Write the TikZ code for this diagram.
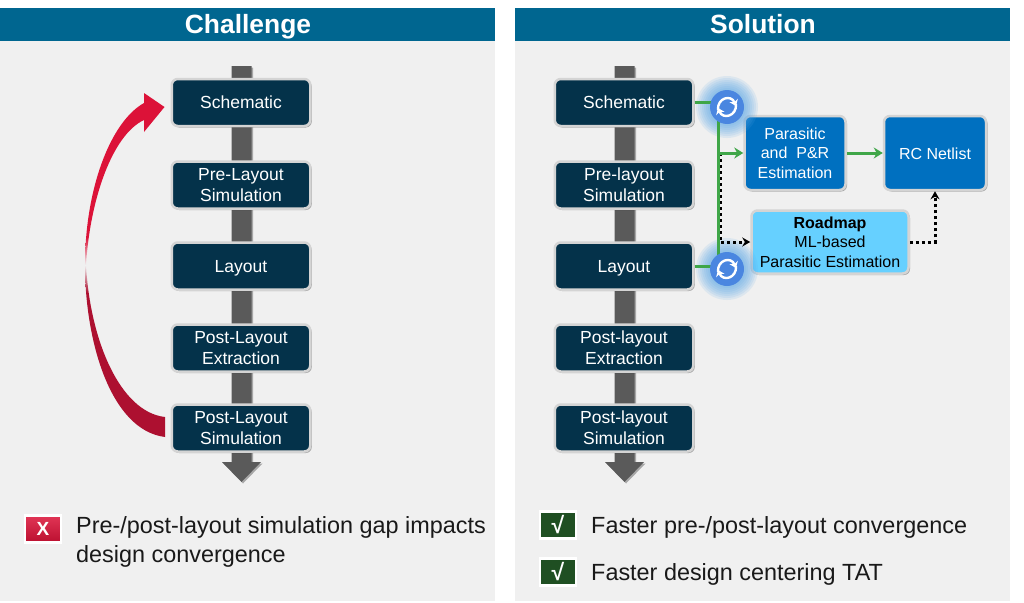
\documentclass[tikz,border=0pt]{standalone}
\usepackage{fontspec}
\setmainfont{Liberation Sans}
\usetikzlibrary{arrows.meta,shadows}
\definecolor{headblue}{HTML}{006690}
\definecolor{panelgray}{HTML}{F0F0F0}
\definecolor{boxnavy}{HTML}{04324A}
\definecolor{boxblue}{HTML}{0070C0}
\definecolor{boxsky}{HTML}{66D0FF}
\definecolor{spinegray}{HTML}{5A5A5A}
\definecolor{edgegray}{HTML}{D4D4D4}
\definecolor{syncblue}{HTML}{4A86E0}
\definecolor{glowblue}{HTML}{5AA8E8}
\definecolor{flowgreen}{HTML}{3FA648}
\definecolor{badred}{HTML}{DC1238}
\definecolor{darkred}{HTML}{AD1030}
\definecolor{goodgreen}{HTML}{1F4F22}
\pgfdeclareverticalshading{returnfade}{100bp}{color(0bp)=(darkred); color(46bp)=(darkred); color(50bp)=(panelgray); color(54bp)=(badred); color(100bp)=(badred)}
\tikzset{
  softshadow/.style={drop shadow={shadow xshift=1.5pt,shadow yshift=-1.5pt,opacity=.3,fill=black}},
  flowbox/.style={draw=edgegray,line width=2.5pt,rounded corners=6pt,inner sep=0pt,align=center,softshadow},
  stagebox/.style={flowbox,fill=boxnavy,text=white,minimum width=138.5pt,minimum height=47pt,font=\fontsize{17.5}{21}\selectfont},
  estbox/.style={flowbox,fill=boxblue,text=white,minimum height=74pt,font=\fontsize{16}{19.5}\selectfont},
  title/.style={anchor=base,inner sep=0pt,text=white,font=\fontsize{26.4}{30}\selectfont\bfseries},
  note/.style={anchor=base west,inner sep=0pt,text=black!90,font=\fontsize{23.4}{28}\selectfont},
  badge/.style={draw=white,line width=2.5pt,text=white,minimum width=36pt,minimum height=27pt,inner sep=0pt,font=\fontsize{19}{20}\selectfont\bfseries},
  syncdot/.style={circle,fill=syncblue,minimum size=34pt,inner sep=0pt},
  greenflow/.style={draw=flowgreen,line width=3pt},
  dotflow/.style={draw=black,line width=3pt,dash pattern=on 3pt off 3pt},
  syncarc/.style={white,line width=2.4pt,-{Stealth[length=6pt,width=9pt]}},
}
\newcommand{\levelrule}{\rule[-6pt]{0pt}{24.5pt}}
\newcommand{\syncglyph}[1]{
  \draw[syncarc] ([shift={(-9,3)}]#1.center) .. controls ([shift={(-10,-9)}]#1.center) and ([shift={(4,-13)}]#1.center) .. ([shift={(9,-1)}]#1.center);
  \draw[syncarc] ([shift={(9,-3)}]#1.center) .. controls ([shift={(10,9)}]#1.center) and ([shift={(-4,13)}]#1.center) .. ([shift={(-9,1)}]#1.center);
}
\begin{document}
\begin{tikzpicture}[x=1pt,y=-1pt]
  \useasboundingbox (0,0) rectangle (1024,602);
  \fill[white] (0,0) rectangle (1024,602);

  % panels and their titles
  \fill[panelgray] (0,41) rectangle (495,601);
  \fill[panelgray] (515,41) rectangle (1010,601);
  \fill[headblue] (0,8) rectangle (495,41);
  \fill[headblue] (515,8) rectangle (1010,41);
  \node[title] (titleL) at (248,33.5) {Challenge};
  \node[title] (titleR) at (763,33.5) {Solution};

  % spines behind the stages
  \foreach \dx in {0,383} {
    \begin{scope}[shift={(\dx,0)}]
    \fill[spinegray,softshadow] (231.5,66) -- (251.5,66) -- (251.5,462) -- (261,462) -- (241.5,482) -- (222,462) -- (231.5,462) -- cycle;
    \end{scope}
  }

  % stages
  \foreach \nm/\lbl/\yy in {sch/\levelrule Schematic/102.5,pre/{Pre-Layout\\Simulation}/185,lay/\levelrule Layout/266,ext/{Post-Layout\\Extraction}/348,sim/{Post-Layout\\Simulation}/428} {
    \node[stagebox] (L\nm) at (241,\yy) {\lbl};
  }
  \foreach \nm/\lbl/\yy in {sch/\levelrule Schematic/102.5,pre/{Pre-layout\\Simulation}/185,lay/\levelrule Layout/266,ext/{Post-layout\\Extraction}/348,sim/{Post-layout\\Simulation}/428} {
    \node[stagebox] (R\nm) at (624,\yy) {\lbl};
  }

  % the long way back
  \shade[shading=returnfade] (165,437) .. controls (110,430) and (85,340) .. (85,265) .. controls (85,190) and (110,122) .. (144,103) -- (144,93) -- (164.5,107) -- (144,132) -- (144,120) .. controls (112,135) and (90,200) .. (86,265) .. controls (90,340) and (120,412) .. (165,417) -- cycle;

  % estimation boxes
  \node[estbox,minimum width=101pt] (par) at (795,153) {Parasitic\\and~~P\&R\\Estimation};
  \node[estbox,minimum width=102pt] (rc) at (935,153) {\levelrule RC Netlist};
  \node[estbox,fill=boxsky,text=black,minimum width=157pt,minimum height=63pt] (road) at (830,242) {\textbf{Roadmap}\\ML-based\\Parasitic Estimation};

  % glow under the sync marks
  \coordinate (syncT) at (727,107);
  \coordinate (syncB) at (727,269);
  \foreach \yy in {107,269} {
    \foreach \rr in {19,21,...,31} {
      \fill[glowblue,opacity=.13] (727,\yy) circle[radius=\rr];
    }
  }

  % flows
  \coordinate (busT) at (718,107);
  \coordinate (busM) at (718,153);
  \coordinate (busB) at (718,269);
  \coordinate (dotM) at (720,153);
  \draw[dotflow,-{Stealth[length=8pt,width=9pt]}] (dotM) |- (road.west);
  \draw[dotflow,-{Stealth[length=8pt,width=9pt]}] (road.east) -| (rc.south);
  \draw[greenflow] (busT) -- (busB);
  \draw[greenflow] (Rsch.east) -- (Rsch.east -| syncT);
  \draw[greenflow] (Rlay.east) -- (Rlay.east -| syncB);
  \draw[greenflow,-{Stealth[length=9pt,width=11pt]}] (busM) -- (busM -| par.west);
  \draw[greenflow,-{Stealth[length=9pt,width=11pt]}] (par.east) -- (rc.west);
  \node[syncdot] (dotT) at (syncT) {};
  \node[syncdot] (dotB) at (syncB) {};
  \syncglyph{dotT}
  \syncglyph{dotB}

  % notes
  \node[badge,shade,top color=badred!85!white,bottom color=badred!85!black] (markX) at (43,529) {X};
  \node[note] (noteA) at (76,533) {Pre-/post-layout simulation gap impacts};
  \node[note] (noteB) at (76,562) {design convergence};
  \node[badge,fill=goodgreen,font=\fontsize{23}{24}\selectfont\bfseries] (markA) at (558,525) {√};
  \node[badge,fill=goodgreen,font=\fontsize{23}{24}\selectfont\bfseries] (markB) at (558,572) {√};
  \node[note] (noteC) at (591,533) {Faster pre-/post-layout convergence};
  \node[note] (noteD) at (591,580) {Faster design centering TAT};
\end{tikzpicture}
\end{document}
